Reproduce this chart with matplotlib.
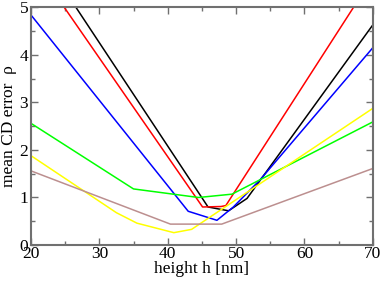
import matplotlib
matplotlib.use("Agg")
import matplotlib.pyplot as plt
from matplotlib.ticker import MultipleLocator

# data (height h [nm], mean CD error rho)
black_h = [20, 45.9, 48.9, 51.6, 70]
black_y = [6.43, 0.80, 0.72, 0.98, 4.63]
red_h = [20, 45.1, 47.8, 48.5, 70]
red_y = [6.01, 0.80, 0.81, 0.83, 5.63]
blue_h = [20, 43.0, 47.2, 49.6, 53.5, 70]
blue_y = [4.84, 0.71, 0.52, 0.80, 1.37, 4.15]
green_h = [20, 35.0, 44.5, 49.4, 70]
green_y = [2.56, 1.18, 1.00, 1.07, 2.59]
yellow_h = [20, 32.5, 35.5, 40.9, 43.5, 70]
yellow_y = [1.88, 0.68, 0.46, 0.26, 0.33, 2.875]
brown_h = [20, 40.4, 47.9, 70]
brown_y = [1.56, 0.44, 0.44, 1.61]

plt.rcParams['font.family'] = ['Liberation Serif', 'DejaVu Serif']

fig = plt.figure(figsize=(3.82, 2.81), dpi=100)
ax = fig.add_axes([0.081, 0.128, 0.895, 0.846])

lw = 1.1
ax.plot(black_h, black_y, color='black', lw=lw)
ax.plot(red_h, red_y, color='#ff0000', lw=lw)
ax.plot(blue_h, blue_y, color='#0000ff', lw=lw)
ax.plot(green_h, green_y, color='#00ff00', lw=lw)
ax.plot(yellow_h, yellow_y, color='#ffff00', lw=lw)
ax.plot(brown_h, brown_y, color='#bc8f8f', lw=lw)

ax.set_xlim(20, 70)
ax.set_ylim(0, 5)
ax.xaxis.set_major_locator(MultipleLocator(10))
ax.xaxis.set_minor_locator(MultipleLocator(5))
ax.yaxis.set_major_locator(MultipleLocator(1))
ax.yaxis.set_minor_locator(MultipleLocator(0.5))

for s in ax.spines.values():
    s.set_color('#707070')
    s.set_linewidth(1.5)
ax.tick_params(which='both', direction='in', top=True, right=True, color='#707070', width=1.0, labelsize=12.5)
ax.tick_params(axis='x', pad=1)
ax.tick_params(axis='y', pad=2)
ax.tick_params(which='major', length=5)
ax.tick_params(which='minor', length=3)

ax.set_xlabel('height h [nm]', fontsize=12.5, labelpad=-1)
ax.set_ylabel('mean CD error  ρ', fontsize=12.5, labelpad=2)

fig.savefig('out.png', dpi=100)
